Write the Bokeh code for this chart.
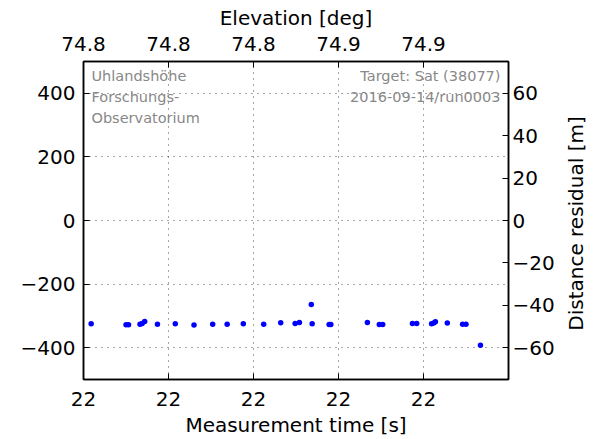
import math
from bokeh.plotting import figure
from bokeh.models import Range1d, LinearAxis, FixedTicker, CustomJSTickFormatter, Label
from bokeh.embed import file_html
from bokeh.resources import INLINE

# ---- data ----
time_s = [22.009, 22.050, 22.053, 22.0665, 22.069, 22.072, 22.087, 22.108, 22.130, 22.152,
          22.169, 22.188, 22.212, 22.232, 22.249, 22.254, 22.268, 22.269, 22.289, 22.291,
          22.334, 22.348, 22.352, 22.387, 22.392, 22.4095, 22.412, 22.414, 22.428, 22.446,
          22.450, 22.467]
residual_m = [-48.7, -49.2, -49.2, -48.9, -48.6, -47.7, -48.9, -48.7, -49.3, -48.9,
              -48.9, -48.7, -48.9, -48.2, -48.6, -48.1, -39.6, -48.7, -49.1, -49.1,
              -48.1, -49.1, -49.1, -48.6, -48.6, -48.7, -48.4, -47.8, -48.4, -48.9,
              -48.9, -58.9]

time_ticks = [22.0, 22.1, 22.2, 22.3, 22.4]
elev_ticks = [74.78, 74.805, 74.83, 74.855, 74.88]
ns_ticks = [-400, -200, 0, 200, 400]
m_ticks = [-60, -40, -20, 0, 20, 40, 60]
station_lines = ["Uhlandshöhe", "Forschungs-", "Observatorium"]
target_lines = ["Target: Sat (38077)", "2016-09-14/run0003"]
right_title = "Distance residual [m]"

FONT = "DejaVu Sans"

p = figure(width=599, height=439, output_backend="svg", toolbar_location=None,
           x_range=Range1d(22.0, 22.5), y_range=Range1d(-500, 500),
           min_border_left=83, min_border_right=91, min_border_top=61, min_border_bottom=57,
           background_fill_color="white", border_fill_color="white")
p.extra_x_ranges = {"elev": Range1d(74.78, 74.905)}
p.extra_y_ranges = {"m": Range1d(-75, 75)}

p.outline_line_color = "black"
p.outline_line_width = 1.5

minus_fmt = "return (tick < 0 ? '\\u2212' : '') + Math.abs(tick).toFixed(%d);"

def style(ax, label_standoff, title_standoff):
    ax.major_tick_in = 6
    ax.major_tick_out = 0
    ax.minor_tick_line_color = None
    ax.major_tick_line_color = "black"
    ax.major_tick_line_width = 1
    ax.axis_line_color = "black"
    ax.axis_line_width = 1.5
    ax.major_label_text_font = FONT
    ax.major_label_text_font_size = "20px"
    ax.major_label_text_color = "black"
    ax.axis_label_text_font = FONT
    ax.axis_label_text_font_size = "20px"
    ax.axis_label_text_font_style = "normal"
    ax.axis_label_text_color = "black"
    ax.major_label_standoff = label_standoff
    ax.axis_label_standoff = title_standoff

bx = p.xaxis[0]
bx.ticker = FixedTicker(ticks=time_ticks)
bx.formatter = CustomJSTickFormatter(code=minus_fmt % 0)
bx.axis_label = "Measurement time [s]"
style(bx, 12, 4)

ly = p.yaxis[0]
ly.ticker = FixedTicker(ticks=ns_ticks)
ly.formatter = CustomJSTickFormatter(code=minus_fmt % 0)
style(ly, 8, 2)

tx = LinearAxis(x_range_name="elev", ticker=FixedTicker(ticks=elev_ticks),
                formatter=CustomJSTickFormatter(code=minus_fmt % 1),
                axis_label="Elevation [deg]")
style(tx, 11, 4)
p.add_layout(tx, "above")

ry = LinearAxis(y_range_name="m", ticker=FixedTicker(ticks=m_ticks),
                formatter=CustomJSTickFormatter(code=minus_fmt % 0))
style(ry, 4, 4)
p.add_layout(ry, "right")

# right-axis title, reading bottom to top as in the reference
p.add_layout(Label(x=22.5, y=0, y_range_name="m", x_offset=67, y_offset=-3, text=right_title,
                   angle=math.pi / 2, text_align="center", text_baseline="middle",
                   text_font=FONT, text_font_size="20px", text_color="black"), "right")

for g in (p.xgrid[0], p.ygrid[0]):
    g.grid_line_color = "black"
    g.grid_line_alpha = 0.7
    g.grid_line_width = 1
    g.grid_line_dash = "1 5"
p.xgrid[0].ticker = bx.ticker
p.ygrid[0].ticker = ly.ticker

p.scatter(time_s, residual_m, y_range_name="m", size=5.5, color="blue", line_width=0)

for i, t in enumerate(station_lines):
    p.add_layout(Label(x=22.0, y=500, x_offset=8, y_offset=-14 - 21 * i, text=t,
                       text_align="left", text_baseline="alphabetic", text_font=FONT,
                       text_font_size="14.5px", text_color="#888888"))
for i, t in enumerate(target_lines):
    p.add_layout(Label(x=22.5, y=500, x_offset=-8, y_offset=-14 - 21 * i, text=t,
                       text_align="right", text_baseline="alphabetic", text_font=FONT,
                       text_font_size="14.5px", text_color="#888888"))

open("out.html", "w").write(file_html(p, INLINE))
